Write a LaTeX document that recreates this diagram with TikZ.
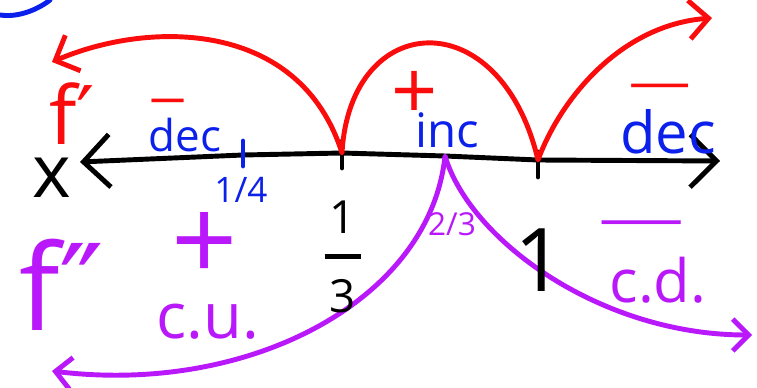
\documentclass[tikz,border=0pt]{standalone}
\usepackage{graphicx}
\usepackage{fontspec}
\setmainfont{Open Sans}
\newfontfamily\primefont{DejaVu Sans}
\usetikzlibrary{arrows.meta}
\definecolor{PenRed}{RGB}{250,12,12}
\definecolor{PenBlue}{RGB}{12,32,235}
\definecolor{PenPurple}{RGB}{185,25,250}
\newcommand{\fs}[1]{\fontsize{#1}{#1}\selectfont}
\newcommand{\wideminus}[1]{\scalebox{#1}[1]{−}}

\begin{document}
\begin{tikzpicture}[x=0.02cm,y=-0.02cm,line cap=round,line join=round,
  pen/.style={line width=2.8pt},
  lbl/.style={inner sep=0pt,anchor=center},
  barbs/.style={{Straight Barb[length=#1,width=2*#1]}-{Straight Barb[length=#1,width=2*#1]}}]
\useasboundingbox (0,0) rectangle (757,388);
\coordinate (xl) at (80,162);
\coordinate (q) at (243,155);
\coordinate (t) at (342,153);
\coordinate (tt) at (445,156);
\coordinate (o) at (538,160);
\coordinate (xr) at (720,161);
\coordinate (fl) at (52,62);
\coordinate (fr) at (712,18);
\coordinate (gl) at (52,371);
\coordinate (gr) at (752,335);
\draw[pen,PenBlue] (0,15) .. controls (20,18) and (40,8) .. (50,0);
\draw[pen,barbs=15pt] (xl) -- (q) -- (t) -- (tt) -- (o) -- (xr);
\draw[pen,PenBlue] (q) ++(0,-14) -- ++(0,25);
\draw[pen] (t) ++(0,-12) -- ++(0,27);
\draw[pen] (o) ++(0,-8) -- ++(0,25);
\draw[pen,PenRed,barbs=11pt] (fl) .. controls (150,20) and (300,20) .. (t)
  .. controls (350,10) and (500,0) .. (o) .. controls (560,100) and (620,25) .. (fr);
\draw[pen,PenPurple,barbs=9pt] (gl) .. controls (250,395) and (430,300) .. (tt)
  .. controls (470,240) and (600,335) .. (gr);
\node[lbl,font=\fs{42}] (x) at (52,178) {x};
\node[lbl,font=\fs{46},PenRed] (fp) at (72,114) {f{\primefont ′}};
\node[lbl,font=\fs{30},PenRed] (m1) at (168,109) {\wideminus{1.3}};
\node[lbl,font=\fs{25},PenBlue] (d1) at (185,135) {dec};
\node[lbl,font=\fs{20},PenBlue] (qq) at (241,190) {1/4};
\node[lbl,font=\fs{46},PenRed] (p1) at (415,95) {+};
\node[lbl,font=\fs{27},PenBlue] (inc) at (447,130) {inc};
\node[lbl,font=\fs{30},PenRed] (m2) at (660,94) {\wideminus{2.3}};
\node[lbl,font=\fs{33},PenBlue] (d2) at (668,132) {dec};
\node[lbl,font=\fs{26}] (th) at (343,257) {\shortstack{1\\[9pt]\rule{0.8em}{2.6pt}\\[9pt]3}};
\node[lbl,font=\fs{50}] (one) at (540,260) {1};
\node[lbl,font=\fs{18},PenPurple] (tw) at (452,224) {2/3};
\node[lbl,font=\fs{68},PenPurple] (fpp) at (62,285) {f{\primefont ″}};
\node[lbl,font=\fs{66},PenPurple] (p2) at (205,247) {+};
\node[lbl,font=\fs{36},PenPurple] (cu) at (208,322) {c.u.};
\node[lbl,font=\fs{32},PenPurple] (m3) at (642,232) {\wideminus{3}};
\node[lbl,font=\fs{34},PenPurple] (cd) at (658,280) {c.d.};
\end{tikzpicture}
\end{document}
